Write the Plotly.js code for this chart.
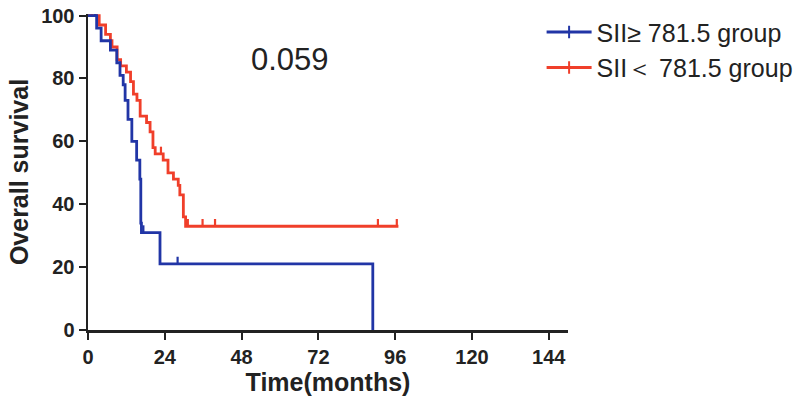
<!DOCTYPE html>
<html>
<head>
<meta charset="utf-8">
<script src="https://cdn.plot.ly/plotly-3.0.1.min.js"></script>
<style>html,body{margin:0;padding:0;background:#fff;}#chart{width:800px;height:408px;}</style>
</head>
<body>
<div id="chart"></div>
<script>
// Kaplan-Meier step data (months, % survival)
var highName = "SII\u2265 781.5 group";
var lowName = "SII\uFF1C 781.5 group";

var highTime = [0, 2.7, 4.1, 7, 9, 10, 11, 11.6, 12.5, 13.7, 15.2, 16.2, 16.5, 16.7, 22.5, 89];
var highSurv = [100, 96, 92, 89, 85, 81, 78, 73, 67, 60, 54, 48, 34, 31, 21, 0];
var highCensTime = [2.2, 17.3, 28];
var highCensSurv = [100, 31, 21];

var lowTime = [0, 3.5, 5.5, 7, 7.5, 9.1, 10.2, 12, 13.3, 14.2, 15.3, 16.3, 18.3, 19.4, 20.3, 21, 23.5, 25, 26.7, 28.2, 28.7, 29.8, 30.5, 97];
var lowSurv = [100, 97, 94, 92, 90, 86, 84, 82, 79, 75, 73, 68, 66, 63, 58, 56, 54, 50, 48, 46, 43, 36, 33, 33];
var lowCensTime = [1.2, 2.6, 22.8, 31.2, 35.8, 39.7, 90.6, 96.5];
var lowCensSurv = [100, 100, 56, 33, 33, 33, 33, 33];

var pValue = "0.059";
var xTicks = [0, 24, 48, 72, 96, 120, 144];
var yTicks = [0, 20, 40, 60, 80, 100];

var blue = "#2135a6";
var red = "#f03f2a";
var font = "Liberation Sans, Arial, sans-serif";
var tick = 2.3;

function censTrace(t, s, color) {
  return {
    x: t, y: s, type: "scatter", mode: "markers", showlegend: false, hoverinfo: "skip",
    marker: {size: 1, color: "rgba(0,0,0,0)"},
    error_y: {type: "data", symmetric: false, array: t.map(function(){return tick;}),
              arrayminus: t.map(function(){return 0;}), width: 0, thickness: 2.2, color: color},
    cliponaxis: false
  };
}

var traces = [
  {x: lowTime, y: lowSurv, type: "scatter", mode: "lines", line: {shape: "hv", color: red, width: 2.8}, showlegend: false, cliponaxis: false},
  censTrace(lowCensTime, lowCensSurv, red),
  {x: highTime, y: highSurv, type: "scatter", mode: "lines", line: {shape: "hv", color: blue, width: 2.8}, showlegend: false, cliponaxis: false},
  censTrace(highCensTime, highCensSurv, blue),
  {x: [null], y: [null], type: "scatter", mode: "lines+markers", name: highName, legendgroup: "a",
   line: {color: blue, width: 2.8}, marker: {symbol: "line-ns-open", size: 9, line: {color: blue, width: 2}}},
  {x: [null], y: [null], type: "scatter", mode: "lines+markers", name: lowName, legendgroup: "b",
   line: {color: red, width: 2.8}, marker: {symbol: "line-ns-open", size: 9, line: {color: red, width: 2}}}
];

var layout = {
  width: 800, height: 408,
  margin: {l: 88, r: 232, t: 14, b: 78, autoexpand: false},
  paper_bgcolor: "#fff", plot_bgcolor: "#fff",
  font: {family: font, color: "#222"},
  xaxis: {
    range: [0, 150], tickvals: xTicks, ticktext: xTicks.map(String),
    showgrid: false, zeroline: false, showline: true, linecolor: "#222", linewidth: 2.5,
    ticks: "outside", ticklen: 7, tickwidth: 2, tickcolor: "#222",
    tickfont: {family: font, size: 20, color: "#222", weight: "bold"},
    title: {text: "<b>Time(months)</b>", font: {family: font, size: 25, color: "#222"}, standoff: 4}
  },
  yaxis: {
    range: [0, 100.5], tickvals: yTicks, ticktext: yTicks.map(String),
    showgrid: false, zeroline: false, showline: true, linecolor: "#222", linewidth: 2.5,
    ticks: "outside", ticklen: 7, tickwidth: 2, tickcolor: "#222",
    tickfont: {family: font, size: 20, color: "#222", weight: "bold"},
    title: {text: "<b>Overall survival</b>", font: {family: font, size: 25, color: "#222"}, standoff: 6}
  },
  legend: {
    x: 0.945, xanchor: "left", y: 1.015, yanchor: "top",
    font: {family: font, size: 25, color: "#222"},
    bgcolor: "rgba(0,0,0,0)", itemwidth: 45, traceorder: "grouped", tracegroupgap: 0
  },
  annotations: [
    {x: 63, y: 86, xref: "x", yref: "y", text: pValue, showarrow: false,
     font: {family: font, size: 31, color: "#222"}}
  ]
};

Plotly.newPlot("chart", traces, layout, {displayModeBar: false, staticPlot: true});
</script>
</body>
</html>
